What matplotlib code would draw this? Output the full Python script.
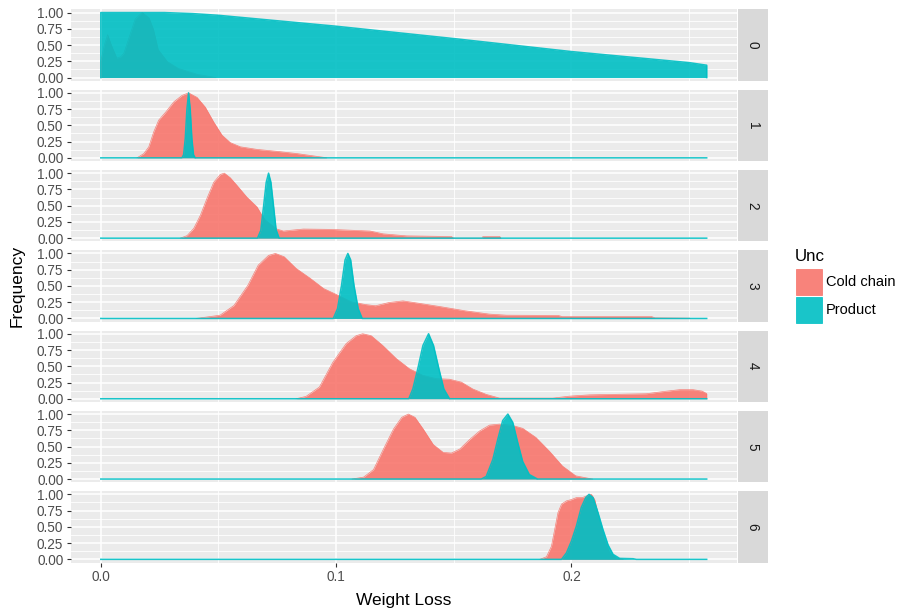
import matplotlib
matplotlib.use("Agg")
import matplotlib.pyplot as plt
from matplotlib.patches import Rectangle

plt.rcParams['font.family'] = ['Liberation Sans', 'DejaVu Sans']

# ---------------- data ----------------
facets = ["0", "1", "2", "3", "4", "5", "6"]
series_names = ["Cold chain", "Product"]
x_ticks = [0.0, 0.1, 0.2]
x_ticklabels = ["0.0", "0.1", "0.2"]
y_ticks = [0.0, 0.25, 0.5, 0.75, 1.0]
y_ticklabels = ["0.00", "0.25", "0.50", "0.75", "1.00"]
x_max = 0.2575

cold0_x = [0.0, 0.0, 0.0015, 0.0029, 0.0045, 0.0068, 0.0085, 0.0098, 0.0127, 0.0146, 0.0176, 0.0205, 0.0224, 0.0244, 0.0283, 0.033, 0.041, 0.049]
cold0_y = [0.0, 0.25, 0.5, 0.66, 0.5, 0.30, 0.32, 0.375, 0.69, 0.90, 1.0, 0.92, 0.74, 0.43, 0.245, 0.14, 0.05, 0.0]
prod0_x = [0.0, 0.0, 0.027, 0.039, 0.05, 0.1, 0.15, 0.2, 0.25, 0.2575, 0.2575]
prod0_y = [0.0, 1.0, 1.0, 0.984, 0.958, 0.79, 0.60, 0.40, 0.23, 0.19, 0.0]

cold1_x = [0.0154, 0.0183, 0.0204, 0.0225, 0.0246, 0.0275, 0.031, 0.0345, 0.0373, 0.0409, 0.0444, 0.048, 0.0515, 0.055, 0.0593, 0.0664, 0.0748, 0.0833, 0.0904, 0.0953, 0.096]
cold1_y = [0.0, 0.066, 0.17, 0.40, 0.58, 0.70, 0.86, 0.96, 1.0, 0.93, 0.78, 0.55, 0.35, 0.235, 0.17, 0.13, 0.10, 0.066, 0.03, 0.005, 0.0]
prod1_x = [0.0, 0.0345, 0.0352, 0.0359, 0.0366, 0.0373, 0.038, 0.0387, 0.0394, 0.0401, 0.2575]
prod1_y = [0.0, 0.0, 0.05, 0.3, 0.75, 1.0, 0.75, 0.3, 0.05, 0.0, 0.0]

cold2_x = [0.0338, 0.0367, 0.0395, 0.0423, 0.0451, 0.048, 0.0508, 0.0525, 0.055, 0.0579, 0.0621, 0.0664, 0.0685, 0.0699, 0.0748, 0.0776, 0.0861, 0.0975, 0.1144, 0.12, 0.13, 0.149, 0.150, 0.162, 0.1624, 0.1696, 0.170]
cold2_y = [0.0, 0.04, 0.15, 0.35, 0.61, 0.86, 0.98, 1.0, 0.93, 0.81, 0.63, 0.48, 0.35, 0.28, 0.14, 0.11, 0.14, 0.135, 0.11, 0.066, 0.035, 0.025, 0.0, 0.0, 0.025, 0.025, 0.0]
prod2_x = [0.0, 0.0666, 0.068, 0.0692, 0.0703, 0.0713, 0.0723, 0.0734, 0.0745, 0.0758, 0.2575]
prod2_y = [0.0, 0.0, 0.12, 0.5, 0.86, 1.0, 0.86, 0.5, 0.13, 0.0, 0.0]

cold3_x = [0.0405, 0.0507, 0.0566, 0.0625, 0.0669, 0.0713, 0.0742, 0.0779, 0.083, 0.0889, 0.0947, 0.1006, 0.1065, 0.1123, 0.1167, 0.1226, 0.1284, 0.1358, 0.1446, 0.1548, 0.1651, 0.1724, 0.1944, 0.196, 0.234, 0.2355, 0.25, 0.2505]
cold3_y = [0.0, 0.05, 0.20, 0.51, 0.82, 0.97, 1.0, 0.95, 0.77, 0.62, 0.46, 0.36, 0.256, 0.215, 0.195, 0.246, 0.27, 0.23, 0.18, 0.118, 0.067, 0.05, 0.046, 0.03, 0.03, 0.01, 0.005, 0.0]
prod3_x = [0.0, 0.0988, 0.1006, 0.1023, 0.1038, 0.105, 0.1062, 0.1076, 0.1094, 0.1111, 0.2575]
prod3_y = [0.0, 0.0, 0.15, 0.51, 0.90, 1.0, 0.90, 0.51, 0.15, 0.0, 0.0]

cold4_x = [0.083, 0.0872, 0.0929, 0.0986, 0.1043, 0.1085, 0.1113, 0.1149, 0.1198, 0.1255, 0.1312, 0.1369, 0.1425, 0.1482, 0.1532, 0.1581, 0.1638, 0.1695, 0.1921, 0.1992, 0.2077, 0.2177, 0.2318, 0.2389, 0.246, 0.2517, 0.2555, 0.2575, 0.2575]
cold4_y = [0.0, 0.036, 0.18, 0.56, 0.85, 0.97, 1.0, 0.97, 0.82, 0.62, 0.46, 0.36, 0.31, 0.30, 0.256, 0.15, 0.067, 0.01, 0.01, 0.04, 0.06, 0.067, 0.077, 0.11, 0.14, 0.14, 0.118, 0.08, 0.0]
prod4_x = [0.0, 0.1309, 0.1326, 0.1347, 0.1369, 0.1393, 0.1414, 0.1437, 0.1458, 0.1482, 0.2575]
prod4_y = [0.0, 0.0, 0.15, 0.46, 0.82, 1.0, 0.82, 0.46, 0.15, 0.0, 0.0]

cold5_x = [0.1068, 0.1117, 0.1159, 0.1201, 0.1244, 0.1279, 0.1307, 0.1335, 0.137, 0.1413, 0.1455, 0.149, 0.1525, 0.1568, 0.161, 0.1652, 0.1694, 0.1744, 0.1793, 0.1849, 0.1906, 0.1962, 0.2018, 0.2082, 0.209]
cold5_y = [0.0, 0.03, 0.145, 0.46, 0.77, 0.95, 1.0, 0.95, 0.77, 0.53, 0.41, 0.40, 0.46, 0.61, 0.74, 0.83, 0.845, 0.83, 0.78, 0.64, 0.43, 0.20, 0.05, 0.005, 0.0]
prod5_x = [0.0, 0.1617, 0.1638, 0.1666, 0.1687, 0.1708, 0.173, 0.1751, 0.1772, 0.1793, 0.1821, 0.1856, 0.2575]
prod5_y = [0.0, 0.0, 0.04, 0.30, 0.61, 0.90, 1.0, 0.87, 0.56, 0.27, 0.07, 0.0, 0.0]

cold6_x = [0.1866, 0.1894, 0.1915, 0.1929, 0.1943, 0.1958, 0.1979, 0.2, 0.2021, 0.2047, 0.2071, 0.2085, 0.2099, 0.212, 0.2141, 0.2163, 0.2191, 0.222]
cold6_y = [0.0, 0.04, 0.20, 0.46, 0.72, 0.85, 0.90, 0.92, 0.95, 0.95, 0.985, 1.0, 0.92, 0.60, 0.30, 0.10, 0.02, 0.0]
prod6_x = [0.0, 0.1958, 0.1979, 0.2, 0.2021, 0.2042, 0.2061, 0.2075, 0.2092, 0.2113, 0.2134, 0.2156, 0.2177, 0.2205, 0.2262, 0.2276, 0.2575]
prod6_y = [0.0, 0.0, 0.10, 0.28, 0.51, 0.80, 0.95, 1.0, 0.95, 0.72, 0.46, 0.22, 0.077, 0.015, 0.01, 0.0, 0.0]

cold_series = [(cold0_x, cold0_y), (cold1_x, cold1_y), (cold2_x, cold2_y), (cold3_x, cold3_y),
               (cold4_x, cold4_y), (cold5_x, cold5_y), (cold6_x, cold6_y)]
prod_series = [(prod0_x, prod0_y), (prod1_x, prod1_y), (prod2_x, prod2_y), (prod3_x, prod3_y),
               (prod4_x, prod4_y), (prod5_x, prod5_y), (prod6_x, prod6_y)]

# ---------------- style ----------------
RED = "#F8766D"
TEAL = "#00BFC4"
ALPHA = 0.9
PANEL_BG = "#EBEBEB"
STRIP_BG = "#D9D9D9"
TXT = "#4D4D4D"

W, H = 900, 616
fig = plt.figure(figsize=(W / 100, H / 100), dpi=100)
fig.patch.set_facecolor("white")

left_px, right_px = 70.5, 737.0
top0_px, pitch_px, ph_px = 9.3, 80.3, 71.5
strip_w = 30.0

for i, lab in enumerate(facets):
    top = top0_px + i * pitch_px
    ax = fig.add_axes([left_px / W, 1 - (top + ph_px) / H, (right_px - left_px) / W, ph_px / H])
    ax.set_facecolor(PANEL_BG)
    for s in ax.spines.values():
        s.set_visible(False)
    ax.set_xlim(-0.05 * x_max, 1.05 * x_max)
    ax.set_ylim(-0.05, 1.05)
    # grid
    for xv in [0.05, 0.15, 0.25]:
        ax.axvline(xv, color="white", lw=0.6, zorder=0)
    for xv in x_ticks:
        ax.axvline(xv, color="white", lw=1.1, zorder=0)
    for yv in [0.125, 0.375, 0.625, 0.875]:
        ax.axhline(yv, color="white", lw=0.6, zorder=0)
    for yv in y_ticks:
        ax.axhline(yv, color="white", lw=1.1, zorder=0)

    cx, cy = cold_series[i]
    ax.fill_between(cx, cy, 0, color=RED, alpha=ALPHA, lw=0, zorder=2)
    ax.plot(cx, cy, color=RED, lw=0.5, alpha=ALPHA, zorder=2)
    px_, py_ = prod_series[i]
    ax.fill_between(px_, py_, 0, color=TEAL, alpha=ALPHA, lw=0, zorder=3)
    ax.plot(px_, py_, color=TEAL, lw=1.1, alpha=ALPHA, zorder=3)

    ax.set_yticks(y_ticks)
    ax.set_yticklabels(y_ticklabels, fontsize=9.8, color=TXT)
    ax.tick_params(axis="y", length=3.2, width=0.8, color="#333333", pad=2)
    if i == len(facets) - 1:
        ax.set_xticks(x_ticks)
        ax.set_xticklabels(x_ticklabels, fontsize=9.8, color=TXT)
        ax.tick_params(axis="x", length=3.2, width=0.8, color="#333333", pad=2)
    else:
        ax.set_xticks([])

    sax = fig.add_axes([(right_px + 0.5) / W, 1 - (top + ph_px) / H, strip_w / W, ph_px / H])
    sax.set_facecolor(STRIP_BG)
    sax.set_xticks([]); sax.set_yticks([])
    for s in sax.spines.values():
        s.set_visible(False)
    sax.text(0.5, 0.5, lab, rotation=-90, ha="center", va="center", fontsize=9.8,
             color="#1A1A1A", transform=sax.transAxes)

# axis titles
fig.text(403.7 / W, 1 - 600 / H, "Weight Loss", ha="center", va="center", fontsize=12.5)
fig.text(17 / W, 1 - 286 / H, "Frequency", ha="center", va="center", rotation=90, fontsize=12.5)

# legend
fig.text(795 / W, 1 - 257 / H, "Unc", ha="left", va="center", fontsize=12.2)
key = 26.0
for j, (nm, col) in enumerate(zip(series_names, [RED, TEAL])):
    ky = 269 + j * 28
    fig.patches.append(Rectangle((796 / W, 1 - (ky + key) / H), key / W, key / H,
                                 transform=fig.transFigure, facecolor=col, alpha=ALPHA,
                                 edgecolor=col, lw=0.6))
    fig.text(826 / W, 1 - (ky + key / 2) / H, nm, ha="left", va="center", fontsize=10.5)

fig.savefig("out.png", dpi=100)
